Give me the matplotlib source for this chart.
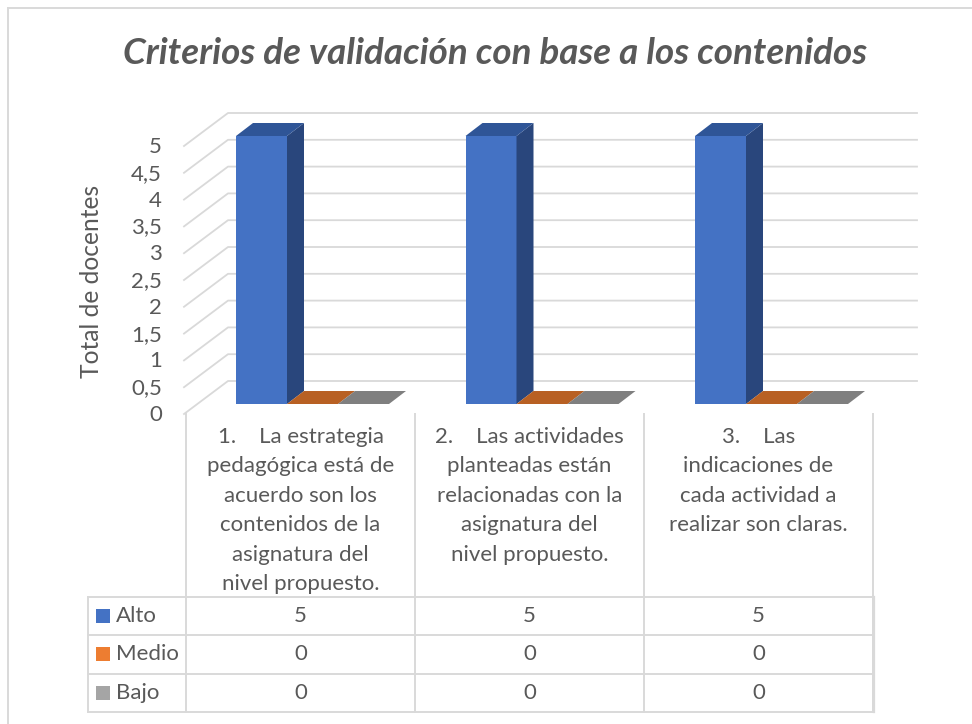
import matplotlib
matplotlib.use("Agg")
import matplotlib.pyplot as plt
from matplotlib.patches import Polygon, Rectangle

plt.rcParams['font.family'] = ['Lato', 'DejaVu Sans']

# datos
titulo = "Criterios de validación con base a los contenidos"
eje_y = "Total de docentes"
ticks = [0, 0.5, 1, 1.5, 2, 2.5, 3, 3.5, 4, 4.5, 5]
tick_labels = ["0", "0,5", "1", "1,5", "2", "2,5", "3", "3,5", "4", "4,5", "5"]
series = ["Alto", "Medio", "Bajo"]
alto = [5, 5, 5]
medio = [0, 0, 0]
bajo = [0, 0, 0]
categorias = [
    ["1.    La estrategia", "pedagógica está de", "acuerdo son los",
     "contenidos de la", "asignatura del", "nivel propuesto."],
    ["2.    Las actividades", "planteadas están", "relacionadas con la",
     "asignatura del", "nivel propuesto."],
    ["3.    Las", "indicaciones de", "cada actividad a", "realizar son claras."],
]

# colores: frente, tapa, lado
COLORES = {
    "Alto": ("#4472c4", "#2f5597", "#29467c"),
    "Medio": ("#ed7d31", "#b86023", "#a35420"),
    "Bajo": ("#a5a5a5", "#7f7f7f", "#6e6e6e"),
}
TEXTO = "#595959"
GRID = "#d9d9d9"
FS = 16

# geometria en pixeles de la imagen
W, H = 972, 724
X_FRENTE = 186
Y_CERO = 414
PX_POR_UNIDAD = 53.6
FONDO_DX, FONDO_DY = 42, -33
X_FIN = 917
BARRA_ANCHO = 51
BARRA_DX, BARRA_DY = 17, -13
BARRA_BASE = 404
BARRA_X0 = 236
GRUPO_PASO = 229.5
TABLA_X = [88, 186, 415, 644, 873]
TABLA_Y = [597, 635, 673.5, 712]


def y_valor(v):
    return Y_CERO - v * PX_POR_UNIDAD


def dibujar_barra(ax, x, v, nombre):
    frente, tapa, lado = COLORES[nombre]
    y0 = BARRA_BASE
    y1 = BARRA_BASE - v * PX_POR_UNIDAD
    if v > 0:
        ax.add_patch(Rectangle((x, y1), BARRA_ANCHO, y0 - y1, fc=frente, ec="none", zorder=4))
        ax.add_patch(Polygon([(x + BARRA_ANCHO, y0), (x + BARRA_ANCHO + BARRA_DX, y0 + BARRA_DY),
                              (x + BARRA_ANCHO + BARRA_DX, y1 + BARRA_DY), (x + BARRA_ANCHO, y1)],
                             fc=lado, ec="none", zorder=4))
    ax.add_patch(Polygon([(x, y1), (x + BARRA_ANCHO, y1), (x + BARRA_ANCHO + BARRA_DX, y1 + BARRA_DY),
                          (x + BARRA_DX, y1 + BARRA_DY)], fc=tapa, ec="none", zorder=4))


fig = plt.figure(figsize=(W / 100, H / 100), dpi=100)
ax = fig.add_axes([0, 0, 1, 1])
ax.set_xlim(0, W)
ax.set_ylim(H, 0)
ax.set_axis_off()

# borde del grafico, se sale por la derecha y abajo
ax.plot([8, 8], [H, 8], color=GRID, lw=1.4)
ax.plot([8, W], [8, 8], color=GRID, lw=1.4)

ax.text(495, 54, titulo, fontsize=26.5, fontweight="bold", fontstyle="italic",
        color=TEXTO, ha="center", va="center")

# rejilla 3d
for t, lab in zip(ticks, tick_labels):
    y = y_valor(t)
    ax.plot([X_FRENTE - 2, X_FRENTE + FONDO_DX, X_FIN], [y, y + FONDO_DY, y + FONDO_DY],
            color=GRID, lw=1.3, zorder=1)
    ax.text(162, y + 1, lab, fontsize=FS, color=TEXTO, ha="right", va="center")

ax.text(91, 281, eje_y, fontsize=17.7, color=TEXTO, rotation=90, ha="center", va="center")

# barras, de izquierda a derecha
valores = [alto, medio, bajo]
for i in range(len(categorias)):
    for j, nombre in enumerate(series):
        dibujar_barra(ax, BARRA_X0 + i * GRUPO_PASO + j * BARRA_ANCHO, valores[j][i], nombre)

# tabla de datos
for y in TABLA_Y:
    ax.plot([TABLA_X[0], TABLA_X[-1]], [y, y], color=GRID, lw=1.4, zorder=1)
for x in TABLA_X[1:]:
    ax.plot([x, x], [Y_CERO, TABLA_Y[-1]], color=GRID, lw=1.4, zorder=1)
ax.plot([TABLA_X[0]] * 2, [TABLA_Y[0], TABLA_Y[-1]], color=GRID, lw=1.4, zorder=1)
ax.plot([TABLA_X[-1] + 1] * 2, [TABLA_Y[0], TABLA_Y[-1]], color=GRID, lw=1.6, zorder=1)

for i, lineas in enumerate(categorias):
    xc = (TABLA_X[i + 1] + TABLA_X[i + 2]) / 2
    for k, linea in enumerate(lineas):
        ax.text(xc, 437 + k * 29.4, linea, fontsize=FS, color=TEXTO, ha="center", va="center")

for j, nombre in enumerate(series):
    yc = (TABLA_Y[j] + TABLA_Y[j + 1]) / 2
    ax.add_patch(Rectangle((96, yc - 7), 14, 14, fc=COLORES[nombre][0], ec="none"))
    ax.text(116, yc, nombre, fontsize=FS, color=TEXTO, ha="left", va="center")
    for i in range(len(categorias)):
        xc = (TABLA_X[i + 1] + TABLA_X[i + 2]) / 2
        ax.text(xc, yc, str(valores[j][i]), fontsize=FS, color=TEXTO, ha="center", va="center")

fig.savefig("out.png", dpi=100, facecolor="white")
